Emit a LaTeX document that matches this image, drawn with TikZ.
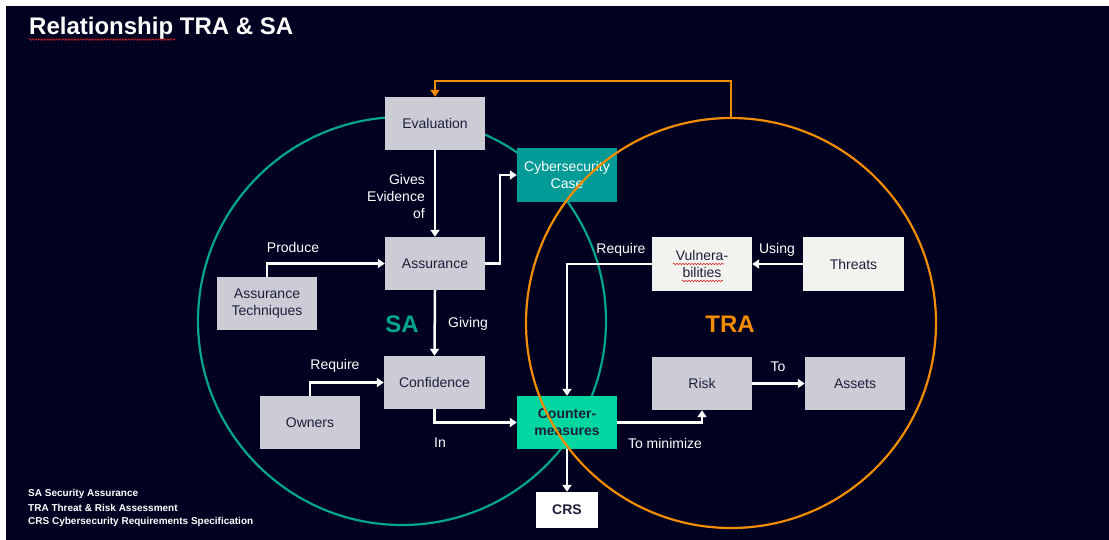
\documentclass[tikz,border=0pt]{standalone}
\usepackage{fontspec}
\setmainfont{Liberation Sans}
\usetikzlibrary{arrows.meta,decorations.pathmorphing}

\definecolor{slidebg}{RGB}{0,0,32}
\definecolor{boxgrey}{RGB}{204,204,214}
\definecolor{boxlight}{RGB}{242,242,238}
\definecolor{caseteal}{RGB}{0,155,150}
\definecolor{cmgreen}{RGB}{0,214,160}
\definecolor{sagreen}{RGB}{0,166,142}
\definecolor{traorange}{RGB}{242,140,0}
\definecolor{ink}{RGB}{30,30,60}
\definecolor{spellred}{RGB}{220,40,40}

\tikzset{
  box/.style={minimum width=100pt, minimum height=53pt, inner sep=0pt,
    align=center, font=\fontsize{14}{17}\selectfont, text=ink},
  greybox/.style={box, fill=boxgrey},
  lightbox/.style={box, fill=boxlight},
  lbl/.style={font=\fontsize{14}{17}\selectfont, text=white, inner sep=0pt},
  arr/.style={draw=white, line width=2.5pt, -{Triangle[length=7pt,width=9pt]}},
  oarr/.style={draw=traorange, line width=2.5pt, -{Triangle[length=7pt,width=9pt]}},
  ring/.style={line width=2.2pt},
  squiggle/.style={draw=spellred, line width=0.6pt,
    decorate, decoration={snake, amplitude=0.8pt, segment length=3pt}},
  legend/.style={anchor=west, inner sep=0pt, text=white,
    font=\fontsize{10}{12}\bfseries\selectfont}
}

\begin{document}
\begin{tikzpicture}[x=1pt,y=-1pt]
% slide background with thin page margin
\fill[white] (0,0) rectangle (1109,540);
\fill[slidebg] (6,6) rectangle (1109,540);
\useasboundingbox (0,0) rectangle (1109,540);

% title
\node[anchor=base west, inner sep=0pt, text=white,
  font=\fontsize{24}{28}\bfseries\selectfont] (title) at (29,35) {Relationship TRA \& SA};
\draw[squiggle] (29,39.5) -- (175,39.5);

% SA circle (beneath the boxes)
\draw[ring, draw=sagreen] (402,321) circle (204);

% SA side
\node[greybox] (eval)   at (435,123.5) {Evaluation};
\node[box, fill=caseteal, text=white, minimum height=54pt] (cyber) at (567,175) {Cybersecurity\\Case};
\node[greybox] (assur)  at (435,263.5) {Assurance};
\node[greybox] (tech)   at (267,303.5) {Assurance\\Techniques};
\node[greybox, minimum width=101pt] (conf) at (434.5,382.5) {Confidence};
\node[greybox] (owners) at (310,422.5) {Owners};
\node[box, fill=cmgreen, font=\fontsize{14}{17}\bfseries\selectfont] (counter) at (567,422.5) {Counter-\\measures};
\node[box, fill=white, minimum width=62pt, minimum height=36pt,
  font=\fontsize{14}{17}\bfseries\selectfont] (crs) at (567,510) {CRS};

% TRA side
\node[greybox]  (risk)    at (702,383.5) {Risk};
\node[greybox]  (assets)  at (855,383.5) {Assets};
\node[lightbox, minimum height=54pt] (vuln) at (702,264) {Vulnera-\\bilities};
\node[lightbox, minimum height=54pt, minimum width=101pt] (threats) at (853.5,264) {Threats};
\draw[squiggle] ([shift={(-29,0)}]vuln.center) -- ([shift={(22,0)}]vuln.center);
\draw[squiggle] ([shift={(-20,17)}]vuln.center) -- ([shift={(21,17)}]vuln.center);

% TRA circle (over the boxes)
\draw[ring, draw=traorange] (731,323) circle (205);
\coordinate (tratop) at (731,118);

% circle labels
\node[inner sep=0pt, text=sagreen, font=\fontsize{24}{28}\bfseries\selectfont] (salbl) at (402,324) {SA};
\node[inner sep=0pt, text=traorange, font=\fontsize{24}{28}\bfseries\selectfont] (tralbl) at (730,324) {TRA};

% connectors
\draw[oarr] (tratop) -- (731,81) -| (eval.north);
\draw[arr] (eval.south) -- (assur.north);
\draw[arr] (assur.east) -- (500,263.5) |- (cyber.west);
\draw[arr] (tech.north) |- (assur.west);
\draw[arr] (assur.south) -- (conf.north);
\draw[arr] (owners.north) |- (conf.west);
\draw[arr] (conf.south) |- (counter.west);
\draw[arr] (counter.east) -| (risk.south);
\draw[arr] (counter.south) -- (crs.north);
\draw[arr] (vuln.west) -| (counter.north);
\draw[arr] (threats.west) -- (vuln.east);
\draw[arr] (risk.east) -- (assets.west);

% connector labels
\node[lbl, anchor=east, align=right] (l-gives) at (425,196) {Gives\\Evidence\\of};
\node[lbl] (l-produce) at (293,247) {Produce};
\node[lbl] (l-giving)  at (468,324) {Giving};
\node[lbl] (l-req1)    at (335,366) {Require};
\node[lbl] (l-in)      at (440,443) {In};
\node[lbl] (l-min)     at (665,443) {To minimize};
\node[lbl] (l-req2)    at (621,250) {Require};
\node[lbl] (l-using)   at (777,250) {Using};
\node[lbl] (l-to)      at (778,367) {To};

% abbreviations
\node[legend] (lg1) at (28,494) {SA Security Assurance};
\node[legend] (lg2) at (28,508) {TRA Threat \& Risk Assessment};
\node[legend] (lg3) at (28,522) {CRS Cybersecurity Requirements Specification};
\end{tikzpicture}
\end{document}
